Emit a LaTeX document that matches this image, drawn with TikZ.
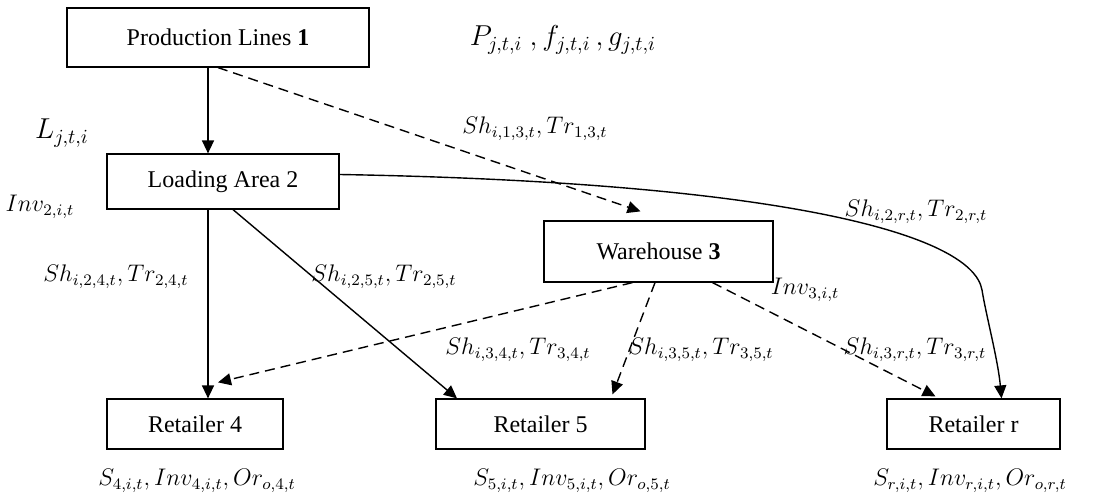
\documentclass[tikz,border=0pt]{standalone}
\usepackage{fontspec}
\setmainfont{Liberation Serif}
\usetikzlibrary{arrows.meta}

\begin{document}
\begin{tikzpicture}[x=0.5pt,y=-0.5pt,>={Triangle[length=6.5pt,width=6pt]},line width=0.7pt,
  box/.style={draw,line width=0.6pt,inner sep=0pt,font=\large},
  flow/.style={->,dash pattern=on 5pt off 3pt}]
   \useasboundingbox (0,0) rectangle (1107,501);

   % 箱
   \node [box,minimum width=151pt,minimum height=29.5pt] (PL) at (218,37.5) {Production Lines \textbf{1}};
   \node [box,minimum width=116pt,minimum height=27.5pt] (LA) at (223,181.5) {Loading Area 2};
   \node [box,minimum width=114.5pt,minimum height=30.5pt] (WH) at (658.5,251.5) {Warehouse \textbf{3}};
   \node [box,minimum width=88pt,minimum height=25pt] (R4) at (195,424) {Retailer 4};
   \node [box,minimum width=104.5pt,minimum height=25pt] (R5) at (540.5,424) {Retailer 5};
   \node [box,minimum width=86.5pt,minimum height=25pt] (Rr) at (973.5,424) {Retailer r};

   % 実線
   \draw[->] ([xshift=-5pt]PL.south) -- ([xshift=-5pt]PL.south |- LA.north);
   \draw[->] ([xshift=-7.5pt]LA.south) -- ([xshift=-7.5pt]LA.south |- R4.north);
   \draw[->] ([xshift=5pt]LA.south) -- ([xshift=-41.75pt]R5.north);
   \draw[->] ([yshift=3.5pt]LA.east) .. controls (770,182) and (972,232) .. (982,290)
      .. controls (986,315) and (998,360) .. ([xshift=14pt]Rr.north);

   % 破線
   \draw[flow] (PL.south) -- ([xshift=-9pt,yshift=4.5pt]WH.north);
   \draw[flow] ([xshift=-13pt]WH.south) -- ([xshift=11.5pt,yshift=8pt]R4.north);
   \draw[flow] ([xshift=-1.75pt]WH.south) -- ([xshift=36pt,yshift=2pt]R5.north);
   \draw[flow] ([xshift=27pt]WH.south) -- ([xshift=-19pt,yshift=1pt]Rr.north);

   % 変数
   \node (pfg) at (563,40) {\Large $P_{j,t,i}\ ,f_{j,t,i}\,,g_{j,t,i}$};
   \node (lji) at (62,133) {\Large $L_{j,t,i}$};
   \node (inv2) at (40,207) {\large $Inv_{2,i,t}$};
   \node (sh13) at (535,129) {\large $Sh_{i,1,3,t},Tr_{1,3,t}$};
   \node (sh2r) at (916,212) {\large $Sh_{i,2,r,t},Tr_{2,r,t}$};
   \node (sh24) at (116,277) {\large $Sh_{i,2,4,t},Tr_{2,4,t}$};
   \node (sh25) at (384,277) {\large $Sh_{i,2,5,t},Tr_{2,5,t}$};
   \node (inv3) at (805,290) {\large $Inv_{3,i,t}$};
   \node (sh34) at (518,350) {\large $Sh_{i,3,4,t},Tr_{3,4,t}$};
   \node (sh35) at (701,350) {\large $Sh_{i,3,5,t},Tr_{3,5,t}$};
   \node (sh3r) at (915,350) {\large $Sh_{i,3,r,t},Tr_{3,r,t}$};
   \node (s4) at (197,481) {\large $S_{4,i,t},Inv_{4,i,t},Or_{o,4,t}$};
   \node (s5) at (572,481) {\large $S_{5,i,t},Inv_{5,i,t},Or_{o,5,t}$};
   \node (sr) at (970,481) {\large $S_{r,i,t},Inv_{r,i,t},Or_{o,r,t}$};

\end{tikzpicture}
\end{document}
